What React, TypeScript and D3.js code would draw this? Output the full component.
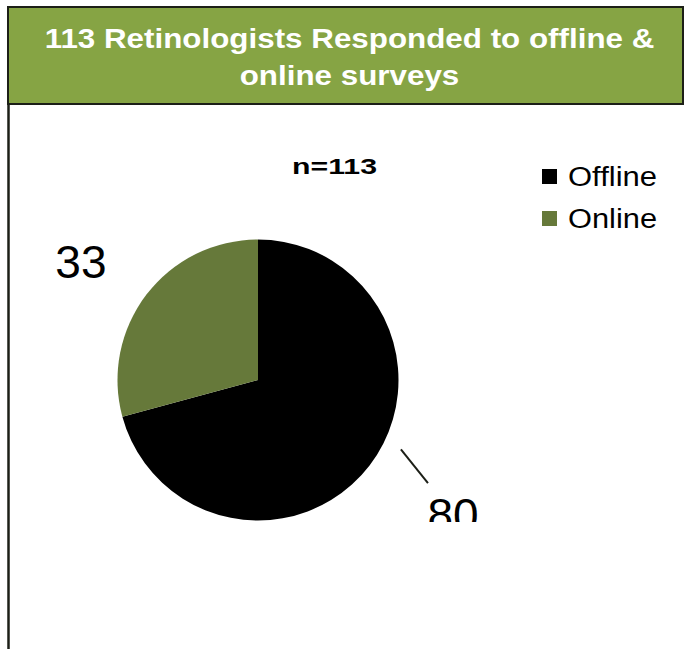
import React from "react";
import * as d3 from "d3";

const categories = ["Offline", "Online"];
const values = [80, 33];
const colors = ["#000000", "#66793a"];
const titleLines = ["113 Retinologists Responded to offline &", "online surveys"];
const subtitle = "n=113";

const W = 685;
const H = 649;

export default function App() {
  const cx = 258;
  const cy = 380;
  const r = 140.5;
  const pie = d3.pie<number>().sort(null).startAngle(0).endAngle(2 * Math.PI);
  const arcs = pie(values);
  const arcGen = d3.arc<d3.PieArcDatum<number>>().innerRadius(0).outerRadius(r);

  // label layout (polar offsets relative to pie centre)
  const polar = (ang: number, rad: number) => [Math.sin(ang) * rad, -Math.cos(ang) * rad];
  const offMid = (arcs[0].startAngle + arcs[0].endAngle) / 2;
  const l0a = polar(offMid - 0.202, 158.8);
  const l0b = polar(offMid - 0.108, 198.8);
  const lab0 = polar(offMid - 0.049, 237);
  const onMid = (arcs[1].startAngle + arcs[1].endAngle) / 2;
  const lab1 = polar(onMid - 0.066, 212.7);

  return (
    <svg
      width={W}
      height={H}
      style={{ position: "absolute", left: 0, top: 0, background: "#fff" }}
      fontFamily="Liberation Sans, Arial, sans-serif"
    >
      <defs>
        <clipPath id="plotClip">
          <rect x={10} y={105} width={672} height={417} />
        </clipPath>
      </defs>
      <rect x={0} y={0} width={W} height={H} fill="#fff" />
      {/* header */}
      <rect x={8} y={7} width={675} height={97} fill="#86a444" stroke="#1c1f17" strokeWidth={2} />
      <line x1={8.5} y1={104} x2={8.5} y2={H} stroke="#1c1f17" strokeWidth={2.5} />
      {titleLines.map((t, i) => (
        <g key={i} transform={`translate(349.5,${i === 0 ? 48 : 85}) scale(1.12,1)`}>
          <text x={0} y={0} textAnchor="middle" fill="#fff" fontWeight="bold" fontSize={28}>
            {t}
          </text>
        </g>
      ))}
      {/* subtitle */}
      <text x={292} y={174} fontWeight="bold" fontSize={22.5} textLength={85} lengthAdjust="spacingAndGlyphs" fill="#000">
        {subtitle}
      </text>
      {/* pie */}
      <g transform={`translate(${cx},${cy})`}>
        {arcs.map((a, i) => (
          <path key={categories[i]} d={arcGen(a) || ""} fill={colors[i]} />
        ))}
      </g>
      {/* data labels */}
      <g clipPath="url(#plotClip)">
        <line
          x1={cx + l0a[0]}
          y1={cy + l0a[1]}
          x2={cx + l0b[0]}
          y2={cy + l0b[1]}
          stroke="#1c1f17"
          strokeWidth={2}
        />
        <text x={cx + lab0[0]} y={cy + lab0[1] + 16.5} fontSize={46} textAnchor="middle" fill="#000">
          {values[0]}
        </text>
        <text x={cx + lab1[0]} y={cy + lab1[1] + 16} fontSize={46} textAnchor="middle" fill="#000">
          {values[1]}
        </text>
      </g>
      {/* legend */}
      {categories.map((c, i) => (
        <g key={c} transform={`translate(542,${169 + i * 42})`}>
          <rect x={0} y={0} width={15} height={15} fill={colors[i]} />
          <text x={26} y={17} fontSize={27} textLength={89} lengthAdjust="spacingAndGlyphs" fill="#000">
            {c}
          </text>
        </g>
      ))}
    </svg>
  );
}
